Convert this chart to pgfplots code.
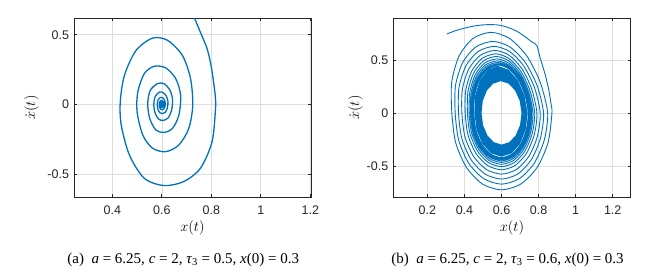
\RequirePackage{fix-cm}
\documentclass[border=0pt]{standalone}
\usepackage{fontspec}
\setmainfont{Liberation Serif}
\newfontfamily\ticksans{Liberation Sans}
\usepackage{pgfplots}
\pgfplotsset{compat=1.18}
\definecolor{mblue}{HTML}{0072BD}
\definecolor{mgrid}{HTML}{DEDEDE}
\definecolor{maxis}{HTML}{262626}
\pgfplotsset{mystyle/.style={
  scale only axis, width=237pt, height=179pt, anchor=south west,
  axis line style={maxis, line width=0.7pt},
  tick style={maxis, line width=0.7pt},
  tick align=inside, major tick length=3pt,
  grid=major, grid style={mgrid, line width=0.6pt},
  ticklabel style={font=\fontsize{12.5}{14}\ticksans, text=maxis},
  xticklabel style={yshift=-5.5pt},
  yticklabel style={xshift=-1.5pt},
  label style={font=\fontsize{14.5}{17}\selectfont},
  xlabel={$x(t)$}, ylabel={$\dot{x}(t)$},
  xlabel style={at={(axis description cs:0.5,-0.17)}, anchor=center},
  ytick={-0.5,0,0.5}, yticklabels={-0.5,0,0.5},
}}
\begin{document}
\begin{tikzpicture}
\path[use as bounding box] (0,0) rectangle (671pt,278pt);
% ---------- (a) ----------
\begin{axis}[mystyle, at={(74pt,81pt)},
  xmin=0.245, xmax=1.203, ymin=-0.663, ymax=0.62,
  xtick={0.4,0.6,0.8,1,1.2}, xticklabels={0.4,0.6,0.8,1,1.2},
  ylabel style={at={(axis description cs:-0.179,0.5)}, anchor=center}]
\addplot[mblue, line width=1.3pt, smooth, tension=0.5] coordinates {
(0.712,0.68) (0.733,0.614) (0.76,0.5) (0.783,0.40) (0.799,0.28) (0.809,0.162) (0.816,0.06) (0.817,-0.03) (0.803,-0.267) (0.756,-0.457) (0.689,-0.552) (0.609,-0.581) (0.529,-0.529) (0.469,-0.362) (0.436,-0.148) (0.432,0.019) (0.449,0.21) (0.496,0.388) (0.563,0.476) (0.623,0.46) (0.683,0.352) (0.716,0.186) (0.725,-0.005) (0.709,-0.171) (0.669,-0.29) (0.616,-0.338) (0.563,-0.314) (0.523,-0.219) (0.5,-0.052) (0.503,0.09) (0.529,0.221) (0.569,0.274) (0.616,0.262) (0.656,0.186) (0.676,0.067) (0.669,-0.076) (0.643,-0.171) (0.609,-0.2) (0.576,-0.183) (0.551,-0.1) (0.543,0.007) (0.553,0.1) (0.583,0.15)
(0.6091,0.149) (0.6319,0.106) (0.6433,0.038) (0.6393,-0.0433) (0.6245,-0.0975) (0.6051,-0.114) (0.5863,-0.104) (0.5721,-0.057) (0.5675,0.004) (0.5732,0.057)
(0.5899,0.089) (0.6052,0.085) (0.6182,0.0605) (0.6247,0.0218) (0.6224,-0.0247) (0.614,-0.0556) (0.6029,-0.065) (0.5922,-0.0595) (0.5841,-0.0325) (0.5815,0.0023) (0.5847,0.0325)
(0.5943,0.0507) (0.603,0.0485) (0.6104,0.0344) (0.6141,0.0124) (0.6128,-0.0141) (0.608,-0.0316) (0.6017,-0.037) (0.5956,-0.0339) (0.5909,-0.0185) (0.5895,0.0013) (0.5913,0.0185)
(0.5967,0.029) (0.6017,0.0278) (0.6059,0.0197) (0.6081,0.0071) (0.6073,-0.0081) (0.6046,-0.0181) (0.601,-0.0212) (0.5975,-0.0194) (0.5948,-0.0106) (0.594,0.0007) (0.595,0.0106)
(0.5981,0.0164) (0.601,0.0157) (0.6034,0.0112) (0.6046,0.004) (0.6041,-0.0046) (0.6026,-0.0103) (0.6005,-0.012) (0.5986,-0.011) (0.5971,-0.006) (0.5966,0.0004) (0.5972,0.006)
(0.5989,0.0093) (0.6005,0.0089) (0.6019,0.0063) (0.6026,0.0023) (0.6023,-0.0026) (0.6015,-0.0058) (0.6003,-0.0068) (0.5992,-0.0062) (0.5983,-0.0034) (0.5981,0.0002) (0.5984,0.0034) (0.6,0)
};
\end{axis}
% ---------- (b) ----------
\begin{axis}[mystyle, at={(393.3pt,81pt)}, width=237.4pt,
  xmin=0.016, xmax=1.297, ymin=-0.795, ymax=0.903,
  xtick={0.2,0.4,0.6,0.8,1,1.2}, xticklabels={0.2,0.4,0.6,0.8,1,1.2},
  ylabel style={at={(axis description cs:-0.159,0.5)}, anchor=center}]
\addplot[fill=mblue, draw=none] coordinates {
(0.582,0.447) (0.6374,0.413) (0.687,0.3161) (0.7234,0.1711) (0.741,0) (0.7303,-0.1581) (0.6997,-0.292) (0.654,-0.3816) (0.6,-0.413) (0.5441,-0.3816) (0.4968,-0.292) (0.4651,-0.1581) (0.454,0) (0.4582,0.1711) (0.4841,0.3161) (0.5275,0.413) (0.582,0.447)
(0.596,0.304) (0.555,0.2809) (0.5208,0.215) (0.4987,0.1163) (0.492,0) (0.5002,-0.114) (0.5236,-0.2107) (0.5587,-0.2753) (0.6,-0.298) (0.6413,-0.2753) (0.6764,-0.2107) (0.6998,-0.114) (0.708,0) (0.6983,0.1163) (0.6736,0.215) (0.6376,0.2809) (0.596,0.304)
};
\addplot[mblue, line width=0.9pt, smooth, tension=0.45] coordinates {
(0.305,0.751) (0.35,0.782) (0.404,0.808) (0.45,0.826) (0.503,0.838) (0.55,0.84) (0.593,0.834) (0.64,0.81) (0.683,0.777) (0.725,0.728) (0.764,0.675) (0.79,0.643) (0.809,0.522) (0.836,0.363) (0.855,0.22) (0.866,0.1) (0.872,0)
(0.8513,-0.2782) (0.7923,-0.5141) (0.7041,-0.6717) (0.6,-0.727) (0.4974,-0.6717) (0.4105,-0.5141) (0.3524,-0.2782) (0.332,0) (0.331,0.2935) (0.3709,0.5423) (0.4457,0.7086) (0.544,0.767)
(0.6436,0.7086) (0.7365,0.5423) (0.8087,0.2935) (0.849,0) (0.8301,-0.2576) (0.7761,-0.4759) (0.6953,-0.6218) (0.6,-0.673) (0.5043,-0.6218) (0.4232,-0.4759) (0.369,-0.2576) (0.35,0) (0.3514,0.2606) (0.3907,0.4815) (0.4618,0.6292) (0.554,0.681)
(0.6444,0.6292) (0.728,0.4815) (0.7921,0.2606) (0.827,0) (0.8097,-0.2392) (0.7605,-0.4419) (0.6869,-0.5774) (0.6,-0.625) (0.5112,-0.5774) (0.436,-0.4419) (0.3857,-0.2392) (0.368,0) (0.3704,0.2426) (0.4077,0.4483) (0.4742,0.5858) (0.56,0.634)
(0.643,0.5858) (0.7195,0.4483) (0.7778,0.2426) (0.809,0) (0.7931,-0.2212) (0.7478,-0.4087) (0.68,-0.534) (0.6,-0.578) (0.5181,-0.534) (0.4487,-0.4087) (0.4023,-0.2212) (0.386,0) (0.3889,0.2277) (0.424,0.4207) (0.4858,0.5497) (0.565,0.595)
(0.6408,0.5497) (0.7104,0.4207) (0.7631,0.2277) (0.791,0) (0.7765,-0.2055) (0.7351,-0.3797) (0.6731,-0.4961) (0.6,-0.537) (0.525,-0.4961) (0.4614,-0.3797) (0.4189,-0.2055) (0.404,0) (0.4067,0.2155) (0.4388,0.3981) (0.4954,0.5202) (0.568,0.563)
(0.6389,0.5202) (0.704,0.3981) (0.7532,0.2155) (0.779,0) (0.7654,-0.194) (0.7266,-0.3585) (0.6685,-0.4684) (0.6,-0.507) (0.5296,-0.4684) (0.4699,-0.3585) (0.43,-0.194) (0.416,0) (0.4189,0.2059) (0.4494,0.3804) (0.5028,0.4971) (0.571,0.538)
(0.6383,0.4971) (0.6997,0.3804) (0.746,0.2059) (0.77,0) (0.7571,-0.1856) (0.7202,-0.3429) (0.6651,-0.4481) (0.6,-0.485) (0.533,-0.4481) (0.4763,-0.3429) (0.4383,-0.1856) (0.425,0) (0.4283,0.1971) (0.4579,0.3642) (0.509,0.4758) (0.574,0.515)
(0.6384,0.4758) (0.6969,0.3642) (0.7406,0.1971) (0.763,0) (0.7506,-0.1787) (0.7153,-0.3302) (0.6624,-0.4315) (0.6,-0.467) (0.5357,-0.4315) (0.4812,-0.3302) (0.4448,-0.1787) (0.432,0) (0.4356,0.1898) (0.4642,0.3507) (0.5135,0.4583) (0.576,0.496)
(0.6379,0.4583) (0.694,0.3507) (0.7359,0.1898) (0.757,0) (0.7451,-0.173) (0.711,-0.3196) (0.6601,-0.4176) (0.6,-0.452) (0.538,-0.4176) (0.4854,-0.3196) (0.4503,-0.173) (0.438,0) (0.4419,0.1841) (0.4698,0.3401) (0.5177,0.4444) (0.578,0.481)
(0.6379,0.4444) (0.6919,0.3401) (0.732,0.1841) (0.752,0) (0.7404,-0.1684) (0.7075,-0.3111) (0.6582,-0.4065) (0.6,-0.44) (0.5399,-0.4065) (0.489,-0.3111) (0.4549,-0.1684) (0.443,0) (0.4472,0.1791) (0.4749,0.3309) (0.5214,0.4324) (0.58,0.468)
(0.6381,0.4324) (0.6906,0.3309) (0.729,0.1791) (0.748,0) (0.7367,-0.1646) (0.7047,-0.3041) (0.6566,-0.3973) (0.6,-0.43) (0.5414,-0.3973) (0.4918,-0.3041) (0.4586,-0.1646) (0.447,0) (0.4513,0.1749) (0.4784,0.3231) (0.5238,0.4222) (0.581,0.457)
(0.6375,0.4222) (0.6884,0.3231) (0.7257,0.1749) (0.744,0) (0.733,-0.1611) (0.7018,-0.2977) (0.6551,-0.389) (0.6,-0.421) (0.543,-0.389) (0.4946,-0.2977) (0.4623,-0.1611) (0.451,0) (0.4554,0.1711) (0.4819,0.3161) (0.5264,0.413) (0.582,0.447)
};
\end{axis}
\node[anchor=base, font=\fontsize{15}{18}\selectfont] at (183.2pt,14.7pt)
  {(a)\enspace\textit{a} = 6.25, \textit{c} = 2, \textit{τ}\textsubscript{3} = 0.5, \textit{x}(0) = 0.3};
\node[anchor=base, font=\fontsize{15}{18}\selectfont] at (507.5pt,14.7pt)
  {(b)\enspace\textit{a} = 6.25, \textit{c} = 2, \textit{τ}\textsubscript{3} = 0.6, \textit{x}(0) = 0.3};
\end{tikzpicture}
\end{document}
